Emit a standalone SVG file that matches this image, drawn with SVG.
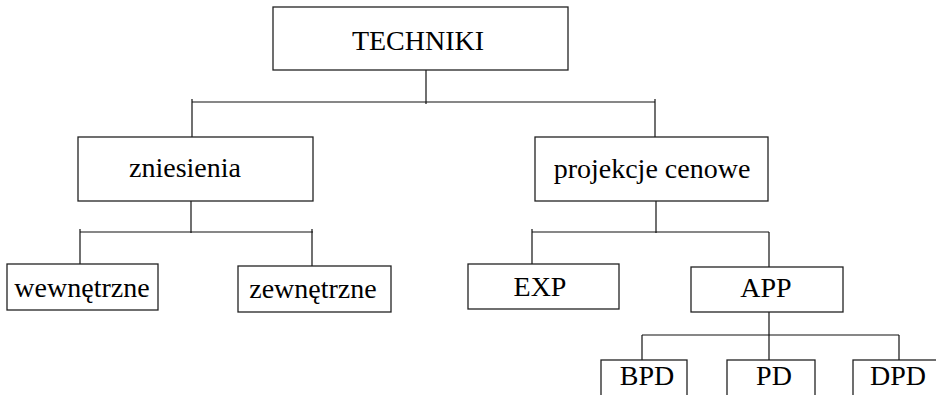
<svg xmlns="http://www.w3.org/2000/svg" width="936" height="395" viewBox="0 0 936 395">
<style>
rect{fill:#fff;stroke:#222;stroke-width:1.3}
text{font-size:28px;fill:#000;text-anchor:middle}
#connectors line{stroke:#111;stroke-width:1.2}
</style>
<rect x="0" y="0" width="936" height="395" style="stroke:none"/>
<g id="connectors">
<line x1="426" y1="70" x2="426" y2="104"/>
<line x1="192" y1="102" x2="655" y2="102"/>
<line x1="192" y1="99" x2="192" y2="137"/>
<line x1="655" y1="99" x2="655" y2="138"/>
<line x1="191" y1="201" x2="191" y2="233"/>
<line x1="80" y1="232" x2="313" y2="232"/>
<line x1="80" y1="229" x2="80" y2="264"/>
<line x1="312" y1="229" x2="312" y2="266"/>
<line x1="656" y1="201" x2="656" y2="233"/>
<line x1="532" y1="232" x2="769" y2="232"/>
<line x1="532" y1="229" x2="532" y2="264"/>
<line x1="769" y1="232" x2="769" y2="267"/>
<line x1="769" y1="312" x2="769" y2="360"/>
<line x1="642" y1="335" x2="899" y2="335"/>
<line x1="642" y1="335" x2="642" y2="360"/>
<line x1="899" y1="335" x2="899" y2="360"/>
</g>
<g font-family="Liberation Serif, DejaVu Serif, serif">
<g id="techniki"><rect x="273" y="7" width="295" height="63"/><text x="418" y="50">TECHNIKI</text></g>
<g id="zniesienia"><rect x="78" y="137" width="235" height="64"/><text x="185" y="177">zniesienia</text></g>
<g id="projekcje"><rect x="535" y="137" width="233" height="64"/><text x="652" y="178">projekcje cenowe</text></g>
<g id="wewnetrzne"><rect x="7" y="264" width="151" height="46"/><text x="82" y="297">wewnętrzne</text></g>
<g id="zewnetrzne"><rect x="238" y="266" width="153" height="46"/><text x="313" y="298">zewnętrzne</text></g>
<g id="exp"><rect x="468" y="264" width="151" height="45"/><text x="540" y="296">EXP</text></g>
<g id="app"><rect x="691" y="267" width="152" height="45"/><text x="766" y="297">APP</text></g>
<g id="bpd"><rect x="601" y="360" width="86" height="50"/><text x="647" y="385">BPD</text></g>
<g id="pd"><rect x="727" y="360" width="88" height="50"/><text x="774" y="385">PD</text></g>
<g id="dpd"><rect x="853" y="360" width="100" height="50"/><text x="898" y="385">DPD</text></g>
</g>
</svg>
